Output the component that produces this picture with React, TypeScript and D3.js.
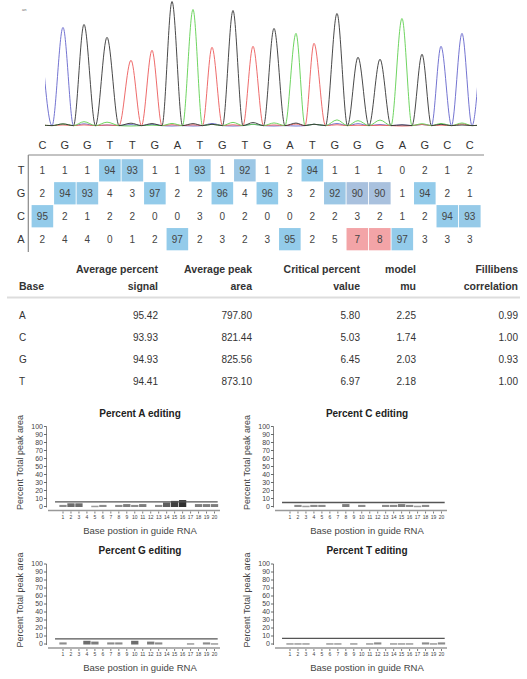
import React from 'react';
import * as d3 from 'd3';

// ---------- data ----------
const SEQUENCE = ['C','G','G','T','T','G','A','T','G','T','G','A','T','G','G','G','A','G','C','C'];
const GRID_ROWS = ['T','G','C','A'];
const PCT_T = [1,1,1,94,93,1,1,93,1,92,1,2,94,1,1,1,0,2,1,2];
const PCT_G = [2,94,93,4,3,97,2,2,96,4,96,3,2,92,90,90,1,94,2,1];
const PCT_C = [95,2,1,2,2,0,0,3,0,2,0,0,2,2,3,2,1,2,94,93];
const PCT_A = [2,4,4,0,1,2,97,2,3,2,3,95,2,5,7,8,97,3,3,3];
const PCT: Record<string, number[]> = { T: PCT_T, G: PCT_G, C: PCT_C, A: PCT_A };

// chromatogram peaks (trace sample index, peak height)
const PEAK_POS = [18,39,62,86,107,127,148,167,188,208,229,251,269,292,313,335,357,377,396,417];
const PEAK_HEIGHT = [99,102,89,66,76,125,117,79,116,80,98,93,83,113,69,67,108,72,80,93];
const FLANK_POS = [-4, 437];
const FLANK_BASE = ['C', 'C'];
const FLANK_HEIGHT = [91, 105];

const TABLE_BASES = ['A','C','G','T'];
const AVG_SIGNAL = [95.42, 93.93, 94.93, 94.41];
const AVG_AREA = [797.80, 821.44, 825.56, 873.10];
const CRITICAL = [5.80, 5.03, 6.45, 6.97];
const MODEL_MU = [2.25, 1.74, 2.03, 2.18];
const FILLIBEN = [0.99, 1.00, 0.93, 1.00];
const TABLE_HEAD1 = ['', 'Average percent', 'Average peak', 'Critical percent', 'model', 'Fillibens'];
const TABLE_HEAD2 = ['Base', 'signal', 'area', 'value', 'mu', 'correlation'];

const Y_TICKS = [0,10,20,30,40,50,60,70,80,90,100];
const POSITIONS = d3.range(1, 21);

const CHANNEL_COLORS: Record<string, string> = { A: '#5fcf4f', C: '#6464cc', G: '#333333', T: '#ec5a5a' };
const FONT = 'Liberation Sans, Arial, Helvetica, sans-serif';

// ---------- components ----------
function Chromatogram() {
  const x = d3.scaleLinear().domain([0, 432]).range([45, 477]);
  const y = d3.scaleLinear().domain([0, 125]).range([126, 1.5]);
  const allPos = [FLANK_POS[0], ...PEAK_POS, FLANK_POS[1]];
  const allBase = [FLANK_BASE[0], ...SEQUENCE, FLANK_BASE[1]];
  const allH = [FLANK_HEIGHT[0], ...PEAK_HEIGHT, FLANK_HEIGHT[1]];
  const line = d3.line<[number, number]>().x(d => x(d[0])).y(d => y(d[1])).curve(d3.curveMonotoneX);
  const channels = ['C', 'T', 'A', 'G'];
  return (
    <g>
      <defs>
        <clipPath id="chromClip"><rect x={45} y={0} width={432} height={130} /></clipPath>
      </defs>
      <text x={22} y={11} fontSize={4} fill="#666" fontFamily={FONT}>an</text>
      <g clipPath="url(#chromClip)">
        {channels.map(ch => {
          const pts: [number, number][] = [];
          allPos.forEach((p, j) => {
            let h: number;
            if (allBase[j] === ch) h = allH[j];
            else if (j >= 1 && j <= 20) h = (PCT[ch][j - 1] / PCT[allBase[j]][j - 1]) * allH[j];
            else h = 1;
            pts.push([p, h]);
            if (j < allPos.length - 1) pts.push([(p + allPos[j + 1]) / 2, 0.4]);
          });
          return <path key={ch} d={line(pts) || ''} fill="none" stroke={CHANNEL_COLORS[ch]} strokeWidth={0.9} />;
        })}
      </g>
    </g>
  );
}

function BaseGrid() {
  const gx = d3.scaleBand<number>().domain(d3.range(20)).range([30.7, 481.5]).padding(0.04);
  const gy = d3.scaleBand<string>().domain(GRID_ROWS).range([158.5, 251]).padding(0.03);
  const blue = d3.scaleLinear<string>().domain([90, 93.5]).range(['#a9c1de', '#93cbea']).clamp(true);
  const critOf = (b: string) => CRITICAL[TABLE_BASES.indexOf(b)];
  const cx = (i: number) => (gx(i) as number) + gx.bandwidth() / 2;
  return (
    <g fontFamily={FONT}>
      {GRID_ROWS.map(r => PCT[r].map((v, i) => {
        let fill: string | null = null;
        if (SEQUENCE[i] === r) fill = blue(v);
        else if (v > critOf(r)) fill = '#f3a4a7';
        return fill ? (
          <rect key={r + i} x={gx(i)} y={gy(r)} width={gx.bandwidth()} height={gy.bandwidth()} fill={fill} />
        ) : null;
      }))}
      {SEQUENCE.map((b, i) => (
        <text key={'h' + i} x={cx(i)} y={145} dy="0.35em" textAnchor="middle" fontSize={11} fill="#333">{b}</text>
      ))}
      {GRID_ROWS.map(r => (
        <text key={'r' + r} x={21} y={(gy(r) as number) + gy.bandwidth() / 2} dy="0.35em" textAnchor="middle" fontSize={11} fill="#333">{r}</text>
      ))}
      {GRID_ROWS.map(r => PCT[r].map((v, i) => (
        <text key={'v' + r + i} x={cx(i)} y={(gy(r) as number) + gy.bandwidth() / 2} dy="0.35em" textAnchor="middle" fontSize={10} fill="#444">{v}</text>
      )))}
      <line x1={28.3} x2={484} y1={155} y2={155} stroke="#888" strokeWidth={1.2} />
      <line x1={28.3} x2={28.3} y1={155} y2={252} stroke="#888" strokeWidth={1.2} />
    </g>
  );
}

function StatsTable() {
  const rightEdges = [0, 158, 252, 360, 416, 518];
  const rowY = d3.scaleBand<string>().domain(TABLE_BASES).range([304, 392]);
  const cols = [AVG_SIGNAL, AVG_AREA, CRITICAL, MODEL_MU, FILLIBEN];
  return (
    <g fontFamily={FONT} fill="#333">
      {TABLE_HEAD1.map((t, i) => i > 0 ? (
        <text key={'a' + i} x={rightEdges[i]} y={269} dy="0.35em" textAnchor="end" fontSize={10.5} fontWeight="bold">{t}</text>
      ) : null)}
      {TABLE_HEAD2.map((t, i) => (
        <text key={'b' + i} x={i === 0 ? 19 : rightEdges[i]} y={286.5} dy="0.35em" textAnchor={i === 0 ? 'start' : 'end'} fontSize={10.5} fontWeight="bold">{t}</text>
      ))}
      <line x1={7} x2={520} y1={297.5} y2={297.5} stroke="#ddd" strokeWidth={2} />
      {TABLE_BASES.map((b, r) => {
        const cy = (rowY(b) as number) + rowY.bandwidth() / 2;
        return (
          <g key={b}>
            <text x={19} y={cy} dy="0.35em" fontSize={10}>{b}</text>
            {cols.map((c, k) => (
              <text key={k} x={rightEdges[k + 1]} y={cy} dy="0.35em" textAnchor="end" fontSize={10}>{c[r].toFixed(2)}</text>
            ))}
          </g>
        );
      })}
    </g>
  );
}

function EditPanel({ base, ox, oy }: { base: string; ox: number; oy: number }) {
  const x = d3.scaleLinear().domain([1, 20]).range([63 + ox, 214.5 + ox]);
  const y = d3.scaleLinear().domain([0, 100]).range([506.5 + oy, 426.5 + oy]);
  const crit = CRITICAL[TABLE_BASES.indexOf(base)];
  const grey = d3.scaleLinear<string>().domain([1, 8]).range(['#9c9c9c', '#2f2f2f']).clamp(true);
  const vals = PCT[base];
  const axisY = y(0) + 4;
  const bw = 7.3;
  return (
    <g fontFamily={FONT}>
      <text x={140 + ox} y={413 + oy} dy="0.35em" textAnchor="middle" fontSize={10} fontWeight="bold" fill="#222">{`Percent ${base} editing`}</text>
      <text transform={`translate(${20 + ox},${y(50) - 4}) rotate(-90)`} textAnchor="middle" dy="0.35em" fontSize={9} fill="#444">Percent Total peak area</text>
      <line x1={46.5 + ox} x2={46.5 + ox} y1={y(100)} y2={y(0) + 1} stroke="#666" strokeWidth={0.8} />
      {Y_TICKS.map(t => (
        <g key={t}>
          <line x1={44 + ox} x2={46.5 + ox} y1={y(t)} y2={y(t)} stroke="#444" strokeWidth={0.8} />
          <text x={43 + ox} y={y(t)} dy="0.35em" textAnchor="end" fontSize={7} fill="#444">{t}</text>
        </g>
      ))}
      {vals.map((v, i) => (SEQUENCE[i] === base || v <= 0) ? null : (
        <rect key={i} x={x(i + 1) - bw / 2} y={y(v)} width={bw} height={Math.max(1.5, y(0) + 0.5 - y(v))} fill={grey(v)} />
      ))}
      <line x1={x(0)} x2={x(20.4)} y1={y(crit)} y2={y(crit)} stroke="#555" strokeWidth={1.3} />
      <line x1={48 + ox} x2={220 + ox} y1={axisY} y2={axisY} stroke="#999" strokeWidth={1.5} />
      {POSITIONS.map(p => (
        <g key={p}>
          <line x1={x(p)} x2={x(p)} y1={axisY + 1} y2={axisY + 3} stroke="#444" strokeWidth={0.7} />
          <text x={x(p)} y={axisY + 6.5} dy="0.35em" textAnchor="middle" fontSize={5} fill="#444">{p}</text>
        </g>
      ))}
      <text x={140 + ox} y={530.5 + oy} dy="0.35em" textAnchor="middle" fontSize={9.5} fill="#444">Base postion in guide RNA</text>
    </g>
  );
}

export default function App() {
  return (
    <svg width={527} height={679} style={{ position: 'absolute', left: 0, top: 0, background: '#fff' }}>
      <rect width={527} height={679} fill="#fff" />
      <Chromatogram />
      <BaseGrid />
      <StatsTable />
      <EditPanel base="A" ox={0} oy={0} />
      <EditPanel base="C" ox={227} oy={0} />
      <EditPanel base="G" ox={0} oy={137.5} />
      <EditPanel base="T" ox={227} oy={137.5} />
    </svg>
  );
}
